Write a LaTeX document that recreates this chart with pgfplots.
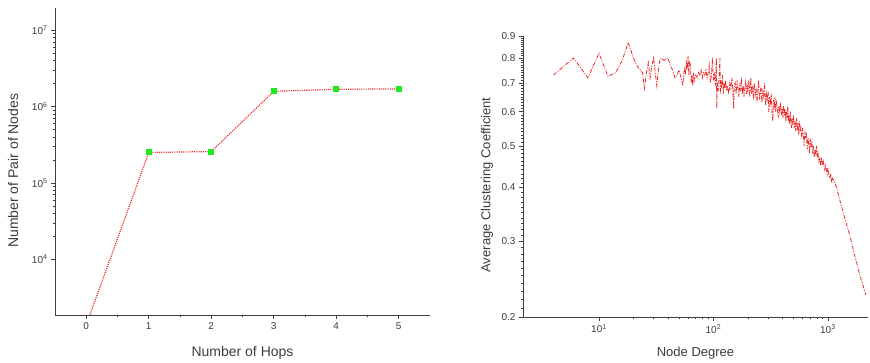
\documentclass[border=0pt]{standalone}
\usepackage{pgfplots}
\pgfplotsset{compat=1.18}
\usepackage{fontspec}
\setmainfont{Liberation Sans}
\definecolor{txt}{RGB}{60,60,60}
\definecolor{lred}{RGB}{235,40,40}
\definecolor{lgreen}{RGB}{30,235,30}
\begin{document}
\begin{tikzpicture}
\useasboundingbox (0pt,0pt) rectangle (870pt,363pt);
\pgfplotsset{
  every axis/.append style={
    scale only axis,
    axis lines=left,
    axis line style={-, black!75, line width=0.8pt},
    tick align=outside,
    tick style={black!75, line width=0.6pt},
    major tick length=4pt,
    minor tick length=2.5pt,
    tick label style={font=\fontsize{10}{11}\selectfont, text=txt},
    /pgf/number format/assume math mode=true,
  }
}
\begin{axis}[
  at={(55pt,48pt)}, anchor=south west,
  width=375pt, height=307pt,
  label style={font=\fontsize{14}{16}\selectfont, text=txt},
  xmin=-0.5, xmax=5.5,
  ymode=log, ymin=1862, ymax=1.95e7,
  xtick={0,1,2,3,4,5},
  xticklabels={0,1,2,3,4,5},
  minor x tick num=1,
  ytick={1e4,1e5,1e6,1e7},
  yticklabels={10\textsuperscript{4},10\textsuperscript{5},10\textsuperscript{6},10\textsuperscript{7}},
  xlabel={Number of Hops},
  ylabel={Number of Pair of Nodes},
  xlabel style={at={(axis description cs:0.5,0)}, anchor=center, yshift=-38pt},
  ylabel style={at={(axis description cs:-0.112,0.47)}, anchor=center},
]
\addplot[lred, dash pattern=on 1.1pt off 1.1pt, line width=1.2pt, mark=square*, mark size=2.4pt,
  mark options={solid, fill=lgreen, draw=lgreen}, mark indices={1,2,3,4,5}]
  coordinates {(0,1380) (1,2.5e5) (2,2.57e5) (3,1.58e6) (4,1.68e6) (5,1.70e6)};
\end{axis}
\begin{axis}[
  at={(523pt,46pt)}, anchor=south west,
  width=345pt, height=281pt,
  label style={font=\fontsize{13}{15}\selectfont, text=txt},
  xmode=log, ymode=log,
  xmin=2.17, xmax=2240,
  ymin=0.2, ymax=0.9,
  ytick={0.2,0.3,0.4,0.5,0.6,0.7,0.8,0.9},
  yticklabels={0.2,0.3,0.4,0.5,0.6,0.7,0.8,0.9},
  minor ytick={0.21,0.22,0.23,0.24,0.25,0.26,0.27,0.28,0.29,0.31,0.32,0.33,0.34,0.35,0.36,0.37,0.38,0.39,0.41,0.42,0.43,0.44,0.45,0.46,0.47,0.48,0.49,0.51,0.52,0.53,0.54,0.55,0.56,0.57,0.58,0.59,0.61,0.62,0.63,0.64,0.65,0.66,0.67,0.68,0.69,0.71,0.72,0.73,0.74,0.75,0.76,0.77,0.78,0.79,0.81,0.82,0.83,0.84,0.85,0.86,0.87,0.88,0.89},
  xtick={10,100,1000},
  xticklabels={10\textsuperscript{1},10\textsuperscript{2},10\textsuperscript{3}},
  xlabel={Node Degree},
  ylabel={Average Clustering Coefficient},
  xlabel style={at={(axis description cs:0.5,0)}, anchor=center, yshift=-36pt},
  ylabel style={at={(axis description cs:-0.104,0.47)}, anchor=center},
]
\addplot[lred, dash pattern=on 4pt off 1.5pt on 1pt off 1.5pt, line width=0.8pt, no marks] coordinates {
(4,0.73) (6,0.80) (8,0.72) (10,0.82) (12,0.725) (14,0.74) (16,0.79) (18,0.87)
(20,0.80) (22,0.76) (24,0.74) (25,0.68) (26,0.74) (27,0.78) (28,0.72) (29,0.77)
(30,0.80) (31,0.74) (32,0.69) (33,0.75) (34,0.79) (35,0.80) (37,0.79) (40,0.80)
(42,0.77) (44,0.75) (46,0.72) (48,0.73) (50,0.75) (52,0.72) (54,0.69) (55,0.73)
(56,0.76) (57,0.74) (58,0.78) (59,0.75) (60,0.81) (61,0.73) (62,0.79) (63,0.76)
(64,0.70) (65,0.73) (66,0.69) (67,0.74) (68,0.71) (70,0.73) (72,0.72) (74,0.74)
(76,0.73) (78,0.75) (80,0.72) (82,0.74) (84,0.73) (86,0.75) (88,0.72) (90,0.74)
(92,0.77) (94,0.70) (96,0.73) (98,0.80) (100,0.71) (102,0.74) (104,0.69) (106,0.80)
(107,0.61) (108,0.70) (110,0.67) (112,0.72) (114,0.80) (115,0.66) (116,0.71) (118,0.68)
(120,0.73) (122,0.66) (124,0.70) (126,0.68) (128,0.71) (130,0.67) (133,0.69) (136,0.66)
(139,0.70) (142,0.68) (145,0.72) (148,0.67) (150,0.61) (152,0.69) (155,0.70) (158,0.66)
(161,0.71) (164,0.68) (167,0.65) (170,0.70) (173,0.67) (176,0.72) (179,0.66) (182,0.69)
(185,0.65) (188,0.68) (191,0.70) (194,0.66) (197,0.69) (200,0.67) (204,0.71) (208,0.65)
(212,0.72) (216,0.66) (220,0.69) (224,0.64) (228,0.70) (232,0.66) (236,0.68) (240,0.63)
(244,0.67) (248,0.71) (252,0.64) (256,0.66) (260,0.69) (265,0.63) (270,0.67) (275,0.65)
(280,0.70) (285,0.62) (290,0.66) (295,0.64) (300,0.67) (305,0.60) (310,0.65) (315,0.63)
(320,0.66) (325,0.60) (330,0.57) (335,0.64) (340,0.62) (345,0.65) (350,0.60) (356,0.63)
(362,0.61) (368,0.58) (374,0.62) (380,0.60) (386,0.63) (392,0.59) (398,0.61) (404,0.58)
(410,0.62) (416,0.59) (422,0.61) (428,0.57) (434,0.60) (440,0.58) (446,0.62) (452,0.57)
(458,0.59) (464,0.56) (470,0.60) (476,0.57) (482,0.55) (488,0.58) (494,0.56) (500,0.59)
(508,0.55) (516,0.57) (524,0.54) (532,0.58) (540,0.55) (548,0.56) (556,0.53) (564,0.57)
(572,0.54) (580,0.55) (590,0.52) (600,0.55) (610,0.53) (620,0.50) (630,0.54) (640,0.52)
(650,0.53) (660,0.49) (670,0.52) (680,0.51) (690,0.48) (700,0.52) (712,0.50) (724,0.51)
(736,0.48) (748,0.50) (760,0.47) (772,0.49) (784,0.48) (796,0.50) (808,0.47) (820,0.48)
(835,0.46) (850,0.47) (865,0.45) (880,0.47) (895,0.45) (910,0.46) (925,0.45) (940,0.44)
(955,0.45) (970,0.44) (985,0.43) (1000,0.445) (1020,0.43) (1040,0.42) (1060,0.43) (1080,0.41)
(1100,0.42) (1150,0.41) (1190,0.40) (1250,0.38) (1320,0.36) (1400,0.34) (1500,0.32)
(1600,0.30) (1700,0.28) (1800,0.265) (1900,0.25) (2000,0.24) (2140,0.225)
};
\end{axis}
\end{tikzpicture}
\end{document}
